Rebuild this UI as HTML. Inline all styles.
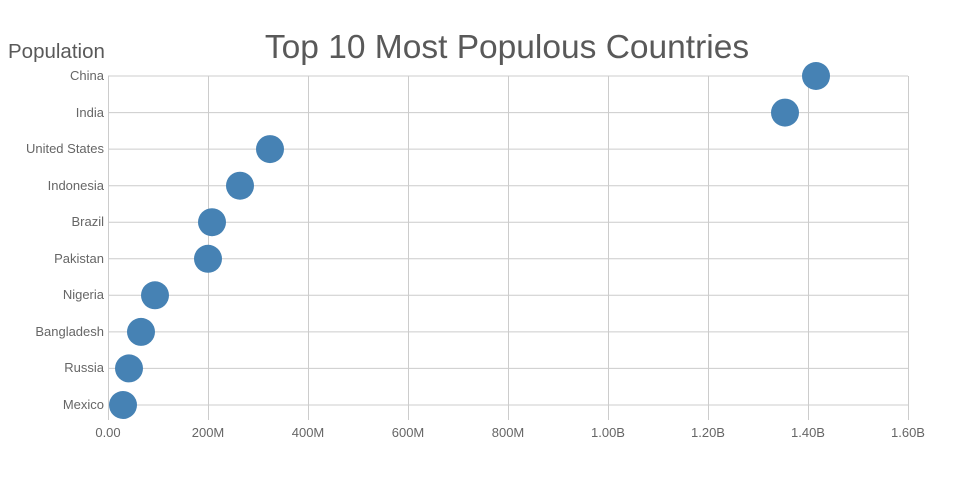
<!DOCTYPE html>
<html><head><meta charset="utf-8"><style>
html,body{margin:0;padding:0;background:#fff;}
svg{display:block;font-family:"Liberation Sans",sans-serif;}
</style></head><body>
<svg width="960" height="500" xmlns="http://www.w3.org/2000/svg">
<rect width="960" height="500" fill="#fff"/>
<text x="507" y="58" text-anchor="middle" font-size="33.5" fill="#595959">Top 10 Most Populous Countries</text>
<text x="8" y="58" font-size="20.5" fill="#595959">Population</text>
<g stroke="#cccccc" stroke-width="1">
<line x1="108" y1="76" x2="908" y2="76"/>
<line x1="108" y1="112.6" x2="908" y2="112.6"/>
<line x1="108" y1="149.1" x2="908" y2="149.1"/>
<line x1="108" y1="185.7" x2="908" y2="185.7"/>
<line x1="108" y1="222.2" x2="908" y2="222.2"/>
<line x1="108" y1="258.8" x2="908" y2="258.8"/>
<line x1="108" y1="295.3" x2="908" y2="295.3"/>
<line x1="108" y1="331.9" x2="908" y2="331.9"/>
<line x1="108" y1="368.4" x2="908" y2="368.4"/>
<line x1="108" y1="405" x2="908" y2="405"/>
<line x1="108.5" y1="76" x2="108.5" y2="420"/>
<line x1="208.5" y1="76" x2="208.5" y2="420"/>
<line x1="308.5" y1="76" x2="308.5" y2="420"/>
<line x1="408.5" y1="76" x2="408.5" y2="420"/>
<line x1="508.5" y1="76" x2="508.5" y2="420"/>
<line x1="608.5" y1="76" x2="608.5" y2="420"/>
<line x1="708.5" y1="76" x2="708.5" y2="420"/>
<line x1="808.5" y1="76" x2="808.5" y2="420"/>
<line x1="908.5" y1="76" x2="908.5" y2="420"/>
</g>
<g font-size="13" fill="#666" text-anchor="end">
<text x="104" y="80">China</text>
<text x="104" y="117">India</text>
<text x="104" y="153">United States</text>
<text x="104" y="190">Indonesia</text>
<text x="104" y="226">Brazil</text>
<text x="104" y="263">Pakistan</text>
<text x="104" y="299">Nigeria</text>
<text x="104" y="336">Bangladesh</text>
<text x="104" y="372">Russia</text>
<text x="104" y="409">Mexico</text>
</g>
<g font-size="13" fill="#666" text-anchor="middle">
<text x="108" y="437">0.00</text>
<text x="208" y="437">200M</text>
<text x="308" y="437">400M</text>
<text x="408" y="437">600M</text>
<text x="508" y="437">800M</text>
<text x="608" y="437">1.00B</text>
<text x="708" y="437">1.20B</text>
<text x="808" y="437">1.40B</text>
<text x="908" y="437">1.60B</text>
</g>
<g fill="#4682b4">
<circle cx="816" cy="76" r="14"/>
<circle cx="785" cy="112.6" r="14"/>
<circle cx="270" cy="149.1" r="14"/>
<circle cx="240" cy="185.7" r="14"/>
<circle cx="212" cy="222.2" r="14"/>
<circle cx="208" cy="258.8" r="14"/>
<circle cx="155" cy="295.3" r="14"/>
<circle cx="141" cy="331.9" r="14"/>
<circle cx="129" cy="368.4" r="14"/>
<circle cx="123" cy="405" r="14"/>
</g>
</svg>
</body></html>
